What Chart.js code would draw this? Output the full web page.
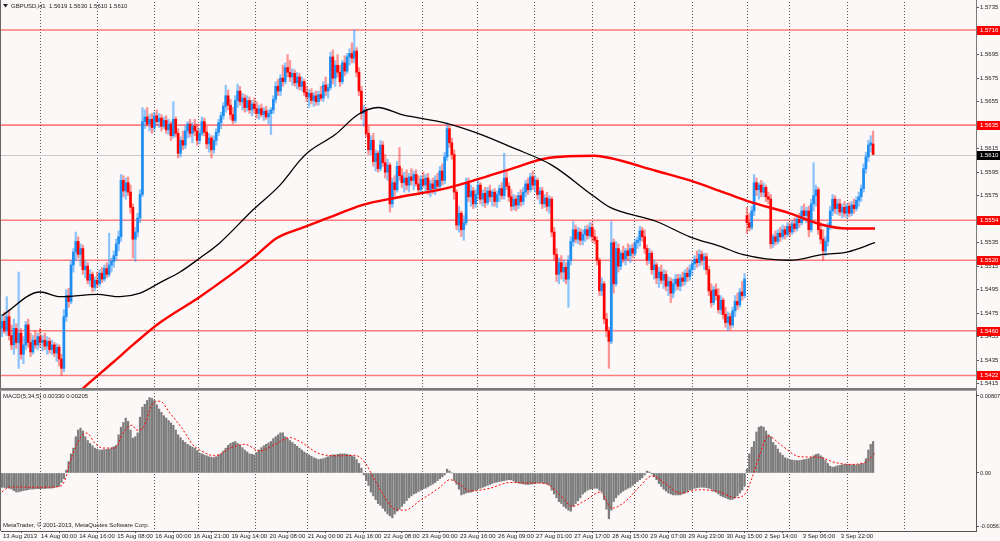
<!DOCTYPE html>
<html>
<head>
<meta charset="utf-8">
<title>GBPUSD,H1</title>
<script src="https://cdn.jsdelivr.net/npm/chart.js@4.4.1/dist/chart.umd.min.js"></script>
<style>
  html, body { margin: 0; padding: 0; background: #fcf8f7; }
  #wrap { position: relative; width: 1000px; height: 541px; overflow: hidden; background: #fcf8f7; }
  canvas { position: absolute; left: 0; }
</style>
</head>
<body>
<div id="wrap">
  <canvas id="priceChart" width="1000" height="390" style="top:0"></canvas>
  <canvas id="macdChart" width="1000" height="151" style="top:390px"></canvas>
</div>
<script>
// Prices are kept in pips: 5610 -> 1.5610. One entry per H1 bar.
const openP = [
  5462,5468,5460,5472,5456,5448,5462,5450,5458,5440, 5448,5465,5450,5442,5452,5448,5455,5450,5452,5447,
  5451,5444,5448,5441,5446,5436,5428,5472,5490,5485, 5516,5527,5536,5525,5530,5512,5515,5503,5508,5497,
  5503,5500,5509,5504,5513,5508,5516,5519,5524,5534, 5540,5588,5579,5586,5578,5565,5538,5544,5556,5576,
  5638,5642,5636,5640,5633,5643,5638,5641,5634,5639, 5631,5636,5626,5640,5628,5611,5622,5618,5630,5636,
  5628,5634,5630,5622,5628,5638,5629,5619,5624,5614, 5622,5629,5637,5643,5651,5660,5652,5644,5639,5656,
  5664,5655,5658,5650,5656,5648,5653,5649,5645,5649, 5644,5647,5642,5645,5648,5657,5668,5664,5675,5672,
  5684,5680,5676,5679,5671,5676,5668,5672,5663,5659, 5662,5656,5660,5655,5661,5658,5669,5664,5667,5693,
  5675,5686,5680,5672,5688,5681,5693,5696,5692,5698, 5680,5664,5645,5648,5628,5614,5622,5604,5611,5598,
  5618,5603,5595,5601,5568,5586,5580,5600,5592,5586, 5590,5584,5591,5588,5593,5585,5580,5589,5584,5590,
  5580,5585,5581,5588,5583,5596,5588,5608,5632,5620, 5610,5578,5550,5560,5546,5552,5586,5574,5579,5568,
  5576,5584,5572,5577,5569,5579,5574,5578,5570,5576, 5581,5575,5590,5583,5574,5566,5572,5567,5575,5570,
  5578,5585,5580,5591,5584,5588,5576,5579,5568,5573, 5566,5572,5544,5525,5508,5518,5510,5514,5504,5520,
  5536,5546,5538,5544,5537,5542,5546,5541,5548,5540, 5537,5520,5494,5500,5470,5460,5451,5535,5500,5530,
  5515,5526,5521,5528,5524,5530,5526,5535,5537,5545, 5540,5530,5520,5526,5512,5516,5505,5510,5503,5508,
  5498,5502,5492,5500,5504,5498,5505,5502,5509,5506, 5512,5517,5521,5518,5525,5520,5523,5512,5494,5484,
  5495,5490,5478,5486,5474,5467,5472,5465,5477,5485, 5482,5493,5490,5558,5552,5548,5562,5586,5580,5584,
  5578,5582,5574,5572,5534,5540,5536,5543,5540,5546, 5542,5549,5544,5551,5547,5555,5552,5562,5558,5562,
  5546,5568,5575,5580,5546,5538,5528,5536,5549,5562, 5572,5564,5568,5561,5565,5560,5566,5560,5567,5564,
  5571,5574,5581,5598,5608,5618,5619
];
const highP = [
  5474,5476,5489,5478,5465,5470,5466,5510,5462,5455, 5468,5470,5458,5456,5460,5458,5462,5456,5458,5455,
  5454,5452,5450,5449,5448,5440,5478,5495,5496,5520, 5530,5544,5540,5534,5533,5520,5518,5512,5510,5506,
  5510,5512,5514,5516,5518,5543,5522,5528,5538,5545, 5593,5592,5590,5591,5584,5568,5548,5560,5580,5650,
  5648,5650,5644,5645,5646,5648,5645,5644,5642,5643, 5640,5638,5655,5642,5632,5625,5630,5634,5638,5640,
  5637,5640,5636,5632,5642,5641,5634,5628,5626,5626, 5632,5640,5646,5654,5669,5665,5657,5650,5660,5670,
  5668,5662,5661,5660,5659,5656,5658,5655,5652,5653, 5650,5651,5648,5650,5660,5672,5674,5678,5686,5688,
  5695,5690,5683,5682,5680,5679,5676,5674,5668,5665, 5666,5663,5664,5664,5668,5672,5676,5670,5697,5699,
  5690,5695,5686,5690,5694,5696,5700,5705,5716,5701, 5684,5668,5652,5650,5634,5626,5628,5614,5613,5622,
  5621,5610,5606,5603,5590,5592,5604,5616,5598,5595, 5597,5594,5598,5596,5597,5592,5592,5595,5593,5594,
  5588,5590,5592,5594,5600,5602,5612,5637,5634,5624, 5614,5580,5566,5562,5558,5590,5590,5584,5582,5580,
  5588,5586,5580,5582,5582,5584,5580,5581,5579,5584, 5586,5611,5595,5586,5580,5576,5575,5578,5580,5582,
  5588,5590,5594,5596,5592,5590,5582,5582,5576,5578, 5575,5574,5548,5530,5522,5524,5520,5518,5524,5540,
  5553,5550,5548,5547,5546,5549,5550,5552,5552,5546, 5540,5522,5505,5502,5475,5463,5553,5538,5536,5534,
  5528,5532,5530,5534,5533,5534,5538,5540,5549,5548, 5546,5533,5530,5528,5520,5518,5514,5516,5512,5511,
  5506,5505,5504,5508,5508,5508,5510,5512,5514,5516, 5520,5524,5528,5529,5528,5526,5526,5515,5500,5498,
  5500,5496,5490,5488,5480,5476,5475,5480,5490,5492, 5496,5502,5509,5565,5560,5566,5593,5590,5586,5588,
  5586,5584,5578,5576,5542,5545,5546,5548,5550,5549, 5552,5552,5554,5556,5558,5560,5566,5568,5565,5566,
  5572,5603,5584,5582,5552,5546,5540,5552,5566,5576, 5575,5572,5572,5568,5570,5568,5569,5570,5572,5574,
  5578,5584,5602,5612,5622,5626,5630
];
const lowP = [
  5455,5458,5456,5452,5444,5440,5445,5428,5436,5432, 5444,5446,5438,5440,5445,5444,5446,5443,5444,5440,
  5441,5440,5438,5434,5430,5422,5425,5468,5480,5483, 5510,5520,5522,5515,5508,5505,5500,5498,5493,5494,
  5497,5498,5501,5502,5505,5506,5510,5514,5520,5528, 5536,5574,5572,5575,5560,5522,5519,5540,5552,5574,
  5632,5634,5630,5628,5630,5635,5633,5630,5632,5628, 5627,5622,5624,5625,5607,5608,5614,5615,5624,5625,
  5620,5626,5618,5619,5626,5626,5615,5612,5607,5611, 5618,5626,5632,5640,5646,5648,5640,5636,5637,5650,
  5652,5648,5646,5647,5645,5643,5645,5641,5640,5642, 5639,5640,5636,5627,5645,5654,5660,5660,5668,5670,
  5676,5672,5669,5668,5666,5665,5664,5660,5655,5650, 5653,5651,5652,5652,5656,5655,5660,5658,5665,5670,
  5668,5676,5668,5670,5677,5679,5686,5688,5688,5676, 5660,5640,5634,5625,5610,5610,5600,5596,5595,5596,
  5600,5590,5588,5561,5565,5575,5578,5588,5582,5578, 5580,5578,5584,5580,5583,5576,5578,5582,5578,5576,
  5574,5577,5576,5580,5580,5584,5585,5605,5616,5606, 5572,5546,5544,5540,5537,5550,5570,5566,5564,5565,
  5572,5568,5566,5565,5567,5570,5566,5566,5565,5570, 5572,5572,5580,5570,5562,5563,5562,5564,5566,5567,
  5574,5576,5578,5580,5578,5572,5568,5564,5565,5562, 5560,5540,5520,5502,5500,5504,5502,5500,5480,5516,
  5532,5535,5534,5533,5533,5536,5538,5539,5536,5534, 5516,5490,5490,5466,5455,5428,5449,5492,5498,5510,
  5512,5518,5516,5520,5518,5522,5524,5530,5532,5536, 5526,5516,5517,5508,5504,5500,5497,5500,5496,5494,
  5490,5484,5488,5494,5495,5494,5498,5499,5502,5503, 5508,5512,5514,5515,5516,5512,5508,5490,5480,5482,
  5486,5475,5474,5470,5463,5460,5461,5463,5472,5478, 5480,5486,5488,5543,5545,5546,5558,5575,5572,5574,
  5574,5570,5568,5530,5531,5533,5534,5536,5538,5538, 5540,5540,5542,5544,5545,5548,5550,5554,5552,5540,
  5544,5562,5566,5542,5534,5520,5524,5532,5546,5558, 5560,5559,5558,5556,5557,5556,5557,5558,5560,5562,
  5566,5570,5578,5594,5604,5612,5610
];
const closeP = [
  5468,5460,5472,5456,5448,5462,5450,5458,5440,5448, 5465,5450,5442,5452,5448,5455,5450,5452,5447,5451,
  5444,5448,5441,5446,5436,5428,5472,5490,5485,5516, 5527,5536,5525,5530,5512,5515,5503,5508,5497,5503,
  5500,5509,5504,5513,5508,5516,5519,5524,5534,5540, 5588,5579,5586,5578,5565,5538,5544,5556,5576,5638,
  5642,5636,5640,5633,5643,5638,5641,5634,5639,5631, 5636,5626,5640,5628,5611,5622,5618,5630,5636,5628,
  5634,5630,5622,5628,5638,5629,5619,5624,5614,5622, 5629,5637,5643,5651,5660,5652,5644,5639,5656,5664,
  5655,5658,5650,5656,5648,5653,5649,5645,5649,5644, 5647,5642,5645,5648,5657,5668,5664,5675,5672,5684,
  5680,5676,5679,5671,5676,5668,5672,5663,5659,5662, 5656,5660,5655,5661,5658,5669,5664,5667,5693,5675,
  5686,5680,5672,5688,5681,5693,5696,5692,5698,5680, 5664,5645,5648,5628,5614,5622,5604,5611,5598,5618,
  5603,5595,5601,5568,5586,5580,5600,5592,5586,5590, 5584,5591,5588,5593,5585,5580,5589,5584,5590,5580,
  5585,5581,5588,5583,5596,5588,5608,5632,5620,5610, 5578,5550,5560,5546,5552,5586,5574,5579,5568,5576,
  5584,5572,5577,5569,5579,5574,5578,5570,5576,5581, 5575,5590,5583,5574,5566,5572,5567,5575,5570,5578,
  5585,5580,5591,5584,5588,5576,5579,5568,5573,5566, 5572,5544,5525,5508,5518,5510,5514,5504,5520,5536,
  5546,5538,5544,5537,5542,5546,5541,5548,5540,5537, 5520,5494,5500,5470,5460,5451,5535,5500,5530,5515,
  5526,5521,5528,5524,5530,5526,5535,5537,5545,5540, 5530,5520,5526,5512,5516,5505,5510,5503,5508,5498,
  5502,5492,5500,5504,5498,5505,5502,5509,5506,5512, 5517,5521,5518,5525,5520,5523,5512,5494,5484,5495,
  5490,5478,5486,5474,5467,5472,5465,5477,5485,5482, 5493,5490,5504,5552,5548,5562,5586,5580,5584,5578,
  5582,5574,5572,5534,5540,5536,5543,5540,5546,5542, 5549,5544,5551,5547,5555,5552,5562,5558,5562,5546,
  5568,5575,5580,5546,5538,5528,5536,5549,5562,5572, 5564,5568,5561,5565,5560,5566,5560,5567,5564,5571,
  5574,5581,5598,5608,5618,5620,5610
];

// Moving averages at sample bars
const maBlackBars = [0,16,24.4,40,49.6,58,66.4,74.8,83.2,91.6,105.5,116.8,125.2,128.6,140,149.6,158,168,186,200,214.3,231,249,255.5,275,289,303,311,331,345,355,366.8];
const maBlackVals = [5473,5493,5489,5491,5489,5492,5501,5510,5522,5535,5563,5584,5605,5612,5627,5644,5650,5644,5637,5628,5616,5601,5574,5565,5553,5540,5531,5525,5520,5525,5527,5535];
const maRedBars = [28.6,35.7,46.6,55,66.4,83.2,105.5,115.5,125.2,137,151.3,165,186,200,214.3,229.4,249,255.5,275,289,303,314,331,345,355,366.8];
const maRedVals = [5401,5414,5433,5448,5467,5489,5522,5539,5547,5556,5567,5573,5581,5589,5598,5607,5609,5607,5596,5588,5578,5570,5560,5550,5547,5547];

// MACD(5,34,5) histogram, units of 0.00001
const macdHist = [
  -150,-152,-156,-160,-170,-185,-200,-198,-190,-185, -180,-175,-170,-168,-166,-165,-165,-164,-162,-160,
  -160,-158,-152,-146,-140,-100,-60,30,120,200, 260,380,450,470,440,380,340,310,285,260,
  250,240,242,245,248,250,262,275,290,400, 480,530,575,540,450,365,380,420,585,690,
  720,760,790,780,760,715,670,635,600,575, 550,525,500,450,400,370,340,320,300,285,
  272,260,235,210,200,190,180,170,165,160, 170,190,200,230,260,290,310,320,330,310,
  290,265,240,220,200,195,190,215,240,265, 285,300,315,330,360,380,400,420,420,380,
  360,340,320,300,280,260,240,220,205,190, 175,160,150,140,145,150,160,170,180,190,
  190,195,200,200,200,195,190,180,170,140, 100,50,-20,-80,-130,-200,-240,-280,-320,-340,
  -370,-400,-430,-450,-470,-430,-400,-380,-350,-320, -290,-260,-240,-220,-210,-195,-180,-165,-160,-145,
  -130,-115,-100,-80,-60,-40,-20,40,20,0, -80,-120,-170,-230,-220,-210,-205,-200,-190,-180,
  -165,-160,-150,-140,-130,-120,-110,-100,-95,-90, -85,-80,-75,-70,-72,-85,-95,-105,-110,-115,
  -120,-120,-118,-115,-110,-105,-100,-105,-110,-115, -130,-180,-220,-260,-300,-320,-350,-370,-390,-400,
  -350,-320,-290,-260,-220,-200,-180,-170,-165,-160, -160,-180,-200,-280,-380,-480,-390,-300,-260,-230,
  -210,-190,-175,-160,-150,-130,-110,-90,-70,-50, -20,20,10,-10,-40,-70,-110,-140,-170,-190,
  -210,-220,-230,-230,-230,-230,-220,-210,-195,-180, -170,-160,-155,-150,-150,-150,-155,-160,-170,-190,
  -200,-220,-240,-250,-260,-270,-280,-275,-260,-240, -210,-180,-140,40,200,270,330,430,480,490,
  480,440,400,380,320,290,250,210,185,160, 150,140,135,132,130,130,135,140,145,150,
  165,180,195,200,180,160,130,100,70,60, 65,75,80,85,90,90,88,85,85,85,
  88,95,100,150,240,300,330
];
const signalBars = [0,3.4,16,24.4,26.5,28.6,32.8,35.7,39,42.4,47.5,50.8,54.6,56.7,59.2,63.4,66.4,70.6,75.6,80.3,83.2,89.5,95.8,102,108.4,114.7,121,125.2,133.6,142,148.3,152.5,156.7,161,165,169.3,175.6,184,188.2,192.4,196.6,205,213.4,221.8,228.2,234.5,239.5,245,251.3,256.3,261.8,268,273.1,278.6,285,293,301.7,308,312.2,315,318.5,321.8,327,335.3,343,350,356.3,362.6,366.8];
const signalVals = [-198,-146,-150,-140,-73,115,365,418,313,261,261,418,501,449,470,731,752,626,470,292,240,180,260,300,230,300,370,330,200,180,185,110,-80,-260,-380,-390,-290,-150,-70,-120,-190,-160,-100,-105,-110,-230,-350,-290,-200,-370,-300,-140,-30,-110,-210,-175,-200,-260,-220,-60,200,390,300,170,165,110,90,110,205];

// Axis ticks and labels
const priceTicks = [5415,5435,5455,5475,5495,5515,5535,5555,5575,5595,5615,5635,5655,5675,5695,5715,5735];
const levelLines = [5716, 5635, 5554, 5520, 5460, 5422];
const lastPrice = 5610;
const macdTicks = [807, 0, -561];
const gridBars = [16,40,64,82.2,106.3,128.3,152.5,176.6,199.4,223.7,247.8,265.7,289.8,312.9,330.8,354.9,379];
const xLabelBars = [0,16,32,48,64,80,96,112,128,144,160,176,192,208,224,240,256,272,288,304,320,336,352];
const xLabels = ['13 Aug 2013','14 Aug 00:00','14 Aug 16:00','15 Aug 08:00','16 Aug 00:00','16 Aug 21:00',
  '19 Aug 14:00','20 Aug 08:00','21 Aug 00:00','21 Aug 16:00','22 Aug 08:00','23 Aug 00:00','23 Aug 16:00',
  '26 Aug 09:00','27 Aug 01:00','27 Aug 17:00','28 Aug 15:00','29 Aug 07:00','29 Aug 23:00','30 Aug 15:00',
  '2 Sep 14:00','3 Sep 06:00','3 Sep 22:00'];

const FONT = '"Liberation Sans", Arial, sans-serif';
const FSIZE = 6;
Chart.defaults.font.family = FONT;
Chart.defaults.font.size = FSIZE;
Chart.defaults.color = '#222';

const toPrice = v => (1 + v / 10000).toFixed(4);
const barIdx = closeP.map((_, i) => i);
const up = i => closeP[i] >= openP[i];
const X_MIN = -0.42, X_MAX = 409.24;

function drawTag(ctx, x, y, text, bg) {
    ctx.fillStyle = bg;
    ctx.fillRect(x, Math.round(y) - 4, 24, 9);
    ctx.fillStyle = '#fff';
    ctx.font = FSIZE + 'px ' + FONT;
    ctx.textBaseline = 'middle';
    ctx.textAlign = 'left';
    ctx.fillText(text, x + 3, Math.round(y) + 0.5);
}

const verticalGrid = {
    id: 'verticalGrid',
    beforeDatasetsDraw(chart) {
        const {ctx, chartArea: a, scales: {x}} = chart;
        ctx.save();
        ctx.strokeStyle = '#555';
        ctx.lineWidth = 1;
        ctx.setLineDash([1, 2]);
        gridBars.forEach(b => {
            const px = Math.round(x.getPixelForValue(b)) + 0.5;
            ctx.beginPath();
            ctx.moveTo(px, a.top);
            ctx.lineTo(px, a.bottom);
            ctx.stroke();
        });
        ctx.restore();
    }
};

const priceDecor = {
    id: 'priceDecor',
    beforeDatasetsDraw(chart) {
        const {ctx, chartArea: a, scales: {y}} = chart;
        ctx.save();
        // current price line
        ctx.strokeStyle = '#c8c8c8';
        ctx.lineWidth = 1;
        let py = Math.round(y.getPixelForValue(lastPrice)) + 0.5;
        ctx.beginPath(); ctx.moveTo(a.left, py); ctx.lineTo(a.right, py); ctx.stroke();
        // horizontal levels
        ctx.strokeStyle = 'rgba(255,0,0,0.5)';
        ctx.lineWidth = 1.6;
        levelLines.forEach(v => {
            const ly = y.getPixelForValue(v);
            ctx.beginPath(); ctx.moveTo(a.left, ly); ctx.lineTo(a.right, ly); ctx.stroke();
        });
        ctx.restore();
    },
    afterDraw(chart) {
        const {ctx, chartArea: a, scales: {y}} = chart;
        ctx.save();
        levelLines.forEach(v => drawTag(ctx, a.right + 1, y.getPixelForValue(v), toPrice(v), '#ff0000'));
        drawTag(ctx, a.right + 1, y.getPixelForValue(lastPrice), toPrice(lastPrice), '#000');

        // symbol header
        ctx.fillStyle = '#222';
        ctx.beginPath(); ctx.moveTo(3, 4); ctx.lineTo(8, 4); ctx.lineTo(5.5, 7.5); ctx.closePath(); ctx.fill();
        ctx.font = FSIZE + 'px ' + FONT;
        ctx.textBaseline = 'middle';
        ctx.textAlign = 'left';
        ctx.fillText('GBPUSD,H1  ' + [5619, 5630, 5610, 5610].map(toPrice).join(' '), 11, 6);

        // frame: left edge and pane separator
        ctx.fillStyle = '#666';
        ctx.fillRect(0, 0, 1, chart.height);
        ctx.fillStyle = '#7a7a7a';
        ctx.fillRect(0, 388, a.right + 1, 2);
        ctx.fillRect(a.right, 0, 1, chart.height);
        ctx.restore();
    }
};

const macdDecor = {
    id: 'macdDecor',
    afterDraw(chart) {
        const {ctx, chartArea: a} = chart;
        ctx.save();
        ctx.fillStyle = '#222';
        ctx.font = FSIZE + 'px ' + FONT;
        ctx.textBaseline = 'middle';
        ctx.textAlign = 'left';
        ctx.fillText('MACD(5,34,5) 0.00330 0.00205', 3, 6);
        ctx.fillText('MetaTrader, \u00a9 2001-2013, MetaQuotes Software Corp.', 3, 135);
        ctx.fillStyle = '#666';
        ctx.fillRect(0, 0, 1, a.bottom);
        ctx.fillRect(a.right, 0, 1, a.top);
        ctx.fillStyle = '#a0a0a0';
        ctx.fillRect(0, 0, a.right + 1, 1);
        ctx.restore();
    }
};

const rightAxis = (min, max, ticks, fmt, size) => ({
    position: 'right',
    min: min,
    max: max,
    afterBuildTicks: s => { s.ticks = ticks.map(v => ({value: v})); },
    afterFit: s => { s.width = 24; s.paddingTop = 0; s.paddingBottom = 0; },
    grid: {drawOnChartArea: false, tickLength: 3, color: '#555'},
    border: {display: true, color: '#555'},
    ticks: {padding: 1, color: '#222', font: {size: size}, callback: fmt}
});

new Chart(document.getElementById('priceChart'), {
    type: 'bar',
    data: {
        datasets: [
            {
                type: 'line', label: 'MA black',
                data: maBlackBars.map((b, k) => ({x: b, y: maBlackVals[k]})),
                borderColor: '#000', borderWidth: 1.3, pointRadius: 0,
                cubicInterpolationMode: 'monotone', order: 0
            },
            {
                type: 'line', label: 'MA red',
                data: maRedBars.map((b, k) => ({x: b, y: maRedVals[k]})),
                borderColor: '#ff0000', borderWidth: 2.4, pointRadius: 0,
                cubicInterpolationMode: 'monotone', order: 0
            },
            {
                label: 'body',
                data: barIdx.map(i => ({x: i, y: [openP[i], closeP[i]]})),
                backgroundColor: barIdx.map(i => up(i) ? '#1e8ef0' : '#ff0000'),
                barThickness: 2, minBarLength: 1, grouped: false, order: 1
            },
            {
                label: 'wick',
                data: barIdx.map(i => ({x: i, y: [lowP[i], highP[i]]})),
                backgroundColor: barIdx.map(i => up(i) ? 'rgba(30,144,255,0.5)' : 'rgba(255,0,0,0.4)'),
                barThickness: 1.6, grouped: false, order: 2
            }
        ]
    },
    options: {
        responsive: false,
        animation: false,
        layout: {padding: {left: 1, top: 2, bottom: 2, right: 0}},
        plugins: {legend: {display: false}, tooltip: {enabled: false}},
        scales: {
            x: {type: 'linear', min: X_MIN, max: X_MAX, offset: false, display: false},
            y: rightAxis(5411.3, 5739.8, priceTicks, v => toPrice(v), FSIZE)
        }
    },
    plugins: [verticalGrid, priceDecor]
});

new Chart(document.getElementById('macdChart'), {
    type: 'bar',
    data: {
        datasets: [
            {
                type: 'line', label: 'Signal',
                data: signalBars.map((b, k) => ({x: b, y: signalVals[k]})),
                borderColor: '#ff0000', borderWidth: 1, borderDash: [2, 2], pointRadius: 0,
                cubicInterpolationMode: 'monotone', order: 0
            },
            {
                label: 'MACD',
                data: barIdx.map(i => ({x: i, y: macdHist[i]})),
                backgroundColor: '#7c7c7c',
                barThickness: 1.6, grouped: false, order: 1
            }
        ]
    },
    options: {
        responsive: false,
        animation: false,
        layout: {padding: {left: 1, top: 3, bottom: 0, right: 0}},
        plugins: {legend: {display: false}, tooltip: {enabled: false}},
        scales: {
            x: {
                type: 'linear', min: X_MIN, max: X_MAX, offset: false,
                afterBuildTicks: s => { s.ticks = xLabelBars.map(v => ({value: v})); },
                afterFit: s => { s.height = 10; s.paddingLeft = 0; s.paddingRight = 0; },
                grid: {drawOnChartArea: false, tickLength: 2, color: '#555'},
                border: {display: true, color: '#555'},
                ticks: {autoSkip: false, maxRotation: 0, align: 'start', padding: 0, labelOffset: 1,
                        color: '#222', callback: (v, idx) => xLabels[idx]}
            },
            y: rightAxis(-608, 838, macdTicks, v => v === 0 ? '0.00' : (v / 1e5).toFixed(5), 5.6)
        }
    },
    plugins: [verticalGrid, macdDecor]
});
</script>
</body>
</html>
